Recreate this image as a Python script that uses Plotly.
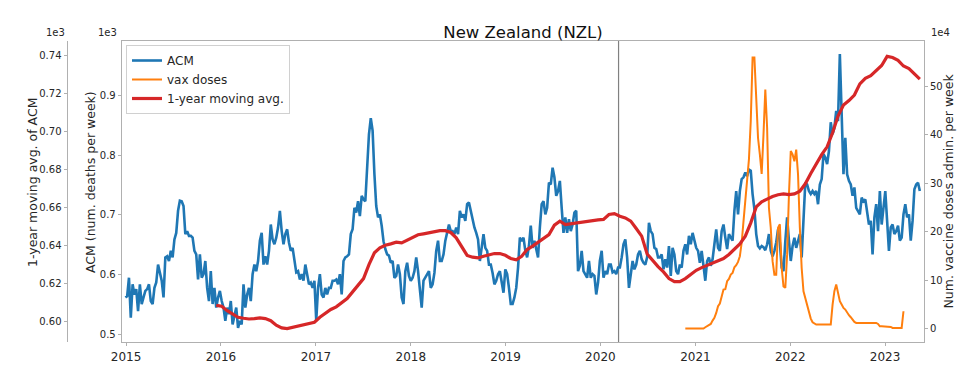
import pandas as pd
import plotly.graph_objects as go

# ---------------- data ----------------
title_text = "New Zealand (NZL)"

# weekly all-cause mortality (deaths per week), first week starting 2014-12-29
acm_start = "2014-12-29"
acm_values = [
    562, 564, 595, 528, 584, 567, 576, 539, 584, 551,
    562, 573, 576, 584, 556, 551, 578, 587, 617, 601,
    590, 562, 629, 631, 623, 640, 629, 659, 670, 707,
    724, 723, 715, 668, 673, 665, 665, 662, 640, 634,
    592, 634, 595, 601, 623, 578, 556, 606, 551, 578,
    545, 562, 573, 556, 545, 523, 545, 534, 556, 517,
    534, 545, 511, 523, 517, 584, 545, 567, 578, 556,
    601, 617,
    606, 623, 657, 670, 617, 631, 617, 640, 684, 659,
    651, 662, 679, 707, 673, 651, 668, 676, 654, 640,
    645, 623, 604, 606, 592, 601, 590, 617, 603, 584,
    587, 578, 590, 523, 578, 601, 567, 562, 578, 567,
    578, 578, 590, 590, 592, 584, 601, 567, 623, 629,
    631, 634, 668, 676, 712, 704, 723, 698, 732, 726,
    723, 790, 835, 862, 841, 768, 715, 696, 701, 682,
    656, 643, 634,
    632, 620, 623, 595, 598, 617, 601, 562, 551, 606,
    620, 598, 590, 595, 606, 629, 606, 578, 545, 590,
    595, 601, 606, 578, 584, 603, 640, 657, 623, 623,
    634, 657, 673, 684, 673, 673, 668, 679, 668, 707,
    696, 701, 690, 718, 721, 707, 690, 679, 670, 659,
    623, 651, 668, 645, 640, 617, 617, 603, 584, 590,
    601, 606, 590, 570, 609, 601, 578, 551, 551, 562,
    578, 612, 662, 656,
    662, 640, 629, 648, 682, 645, 657, 643, 629, 679,
    718, 723, 701, 712, 754, 751, 779, 763, 732, 740,
    757, 712, 670, 696, 670, 693, 673, 684, 704, 707,
    606, 615, 640, 606, 601, 595, 623, 595, 601, 598,
    567, 587, 623, 640, 595, 606, 601, 617, 617, 604,
    606, 601, 612, 612, 629, 651, 659, 629, 578, 606,
    623, 609, 617, 634, 640, 626, 620, 617, 629, 687,
    673, 668, 645,
    643, 629, 629, 634, 609, 626, 612, 648, 598, 645,
    634, 606, 601, 617, 612, 640, 651, 634, 665, 651,
    670, 659, 645, 640, 620, 640, 615, 590, 623, 629,
    615, 626, 651, 676, 645, 640, 673, 684, 662, 643,
    668, 662, 657, 707, 740, 701, 740, 760, 763, 771,
    765, 776, 774, 735, 710, 668, 648, 644, 648, 646,
    641, 651, 668, 640, 631, 640, 654, 676, 654, 612,
    606, 656, 696,
    657, 623, 648, 662, 645, 657, 668, 629, 701, 754,
    751, 740, 735, 740, 735, 740, 718, 751, 760, 802,
    796, 785, 807, 855, 835, 846, 874, 857, 969, 885,
    768, 829, 768, 757, 751, 732, 746, 712, 707, 701,
    729, 723, 726, 704, 684, 690, 634, 696, 718, 673,
    740, 684, 718, 740, 690, 640, 679, 684, 668, 673,
    682, 657, 662, 701, 718, 696, 701, 657, 690, 743,
    751, 754, 740,
]

# vaccine doses administered per week, first week starting 2020-11-23
vax_start = "2020-11-23"
vax_values = [
    0, 0, 0, 0, 0, 0, 0, 0, 0, 0, 0,
    2700, 4800, 6800, 9600, 16500, 22000, 32300, 46000, 51600, 68700,
    80400, 81100, 97600, 102500, 111400, 114800, 126500, 130700, 137500, 149200,
    177000, 221000, 266000, 311000, 349000, 428000, 559000, 559000, 490000, 393000,
    359000, 319000, 400000, 493000, 414000, 249000, 208000, 139000, 111000, 111000,
    208000, 215000, 125000, 87000, 84000, 153000,
    276000, 366000, 359000, 345000, 369000, 318000, 208000, 125000, 77000, 63000,
    43000, 29000, 20600, 13000, 9600, 8200, 8200, 8200, 8200, 8200,
    8200, 8200, 8200, 8200, 49500, 77000, 90800, 73600, 56400, 49500,
    42600, 39200, 32300, 27500, 23400, 18500, 13700, 11600, 11600, 11600,
    11600, 11600, 11600, 11600, 11600, 11600, 11600, 11600, 11600, 9600,
    4800, 4800, 4800, 4800, 4800, 4800, 3400, 1400, 1400, 1400,
    1400, 1400, 1400, 35700,
]

# 1-year moving average of ACM, every 3 weeks starting 2015-12-14
ma_start = "2015-12-14"
ma_values = [
    608.4, 607.9, 605.6, 604.0, 602.1, 601.6, 601.2, 601.4,
    601.8, 601.4, 600.3, 597.9, 596.5, 596.1, 596.8, 597.4, 597.9, 598.8,
    599.5, 602.1, 604.4, 606.2, 607.6, 609.7, 612.0, 615.5, 618.8, 622.5,
    629.9, 636.1, 638.7, 640.1,
    640.8, 641.7, 641.3, 642.6, 644.0, 645.6, 646.1, 646.6, 647.0, 647.8,
    647.8, 646.8, 644.0, 639.6, 634.7, 633.8, 633.4, 634.3, 635.2, 635.7,
    635.7, 634.8, 633.1, 632.4, 634.3,
    637.8, 639.6, 641.5, 643.4, 645.7, 650.7, 652.8, 651.0, 651.4, 652.2,
    652.4, 652.8, 653.3, 653.5, 653.7, 656.3, 656.8, 655.4, 654.5, 652.8,
    648.9, 644.9, 635.5, 632.0,
    628.8, 626.0, 622.5, 620.9, 620.9, 622.5, 624.6, 626.9, 628.3, 629.5,
    630.3, 631.5, 633.1, 635.2, 638.2, 640.8, 644.9, 651.9, 660.3, 663.0,
    664.4, 665.8, 666.7, 667.2,
    666.8, 667.2, 668.6, 672.5, 677.9, 683.2, 687.9, 692.0, 699.4, 708.2,
    714.0, 716.4, 719.3, 725.2, 728.1, 729.5, 732.3, 734.9, 739.7, 739.1,
    737.6, 734.6, 733.2, 730.5, 727.7,
]

pandemic_date = "2020-03-11"

year_ticks = ["2015", "2016", "2017", "2018", "2019", "2020", "2021", "2022", "2023"]
acm_tickvals = [500, 600, 700, 800, 900]
acm_ticktext = ["0.5", "0.6", "0.7", "0.8", "0.9"]
ma_tickvals = [600, 620, 640, 660, 680, 700, 720, 740]
ma_ticktext = ["0.60", "0.62", "0.64", "0.66", "0.68", "0.70", "0.72", "0.74"]
vax_tickvals = [0, 100000, 200000, 300000, 400000, 500000]
vax_ticktext = ["0", "10", "20", "30", "40", "50"]

# ---------------- build ----------------
acm_dates = pd.date_range(acm_start, periods=len(acm_values), freq="7D")
vax_dates = pd.date_range(vax_start, periods=len(vax_values), freq="7D")
ma_dates = pd.date_range(ma_start, periods=len(ma_values), freq="21D")

# the page body has an 8px default margin: the figure is drawn from (8, 8)
OFF = 8
W, H = 950, 371
FONT = "DejaVu Sans"
TXT = "#262626"
SPINE = "#b0b0b0"


def xp(px):
    return (px - OFF) / W


def yp(py):
    return 1 - (py - OFF) / H


x0_px, x1_px = 121.7, 924.0
top_px, bot_px = 41.0, 342.3
xdom = [xp(x0_px), xp(x1_px)]
ydom = [yp(bot_px), yp(top_px)]

fig = go.Figure()
fig.add_trace(go.Scatter(x=acm_dates, y=acm_values, name="ACM", mode="lines",
                         line=dict(color="#1f77b4", width=2.6), yaxis="y"))
fig.add_trace(go.Scatter(x=vax_dates, y=vax_values, name="vax doses", mode="lines",
                         line=dict(color="#ff7f0e", width=2), yaxis="y2"))
fig.add_trace(go.Scatter(x=ma_dates, y=ma_values, name="1-year moving avg.", mode="lines",
                         line=dict(color="#d62728", width=3.2), yaxis="y3"))

common_y = dict(showgrid=False, zeroline=False, showline=True, linecolor=SPINE, linewidth=1,
                ticks="outside", ticklen=3, tickcolor=SPINE,
                tickfont=dict(family=FONT, size=10, color=TXT))

fig.update_layout(
    width=W, height=H,
    margin=dict(l=0, r=0, t=0, b=0, autoexpand=False),
    paper_bgcolor="white", plot_bgcolor="white",
    font=dict(family=FONT, color=TXT),
    title=dict(text=title_text, x=xp(523), y=yp(32), xanchor="center", yanchor="middle",
               font=dict(family=FONT, size=16.5, color="#111")),
    xaxis=dict(domain=xdom, type="date", range=["2014-12-15", "2023-05-31"],
               tickvals=[f"{y}-01-01" for y in year_ticks], ticktext=year_ticks,
               showgrid=False, zeroline=False, showline=True, mirror=True,
               linecolor=SPINE, linewidth=1, ticks="outside", ticklen=3, tickcolor=SPINE,
               tickfont=dict(family=FONT, size=12, color=TXT)),
    yaxis=dict(domain=ydom, range=[487, 991], tickvals=acm_tickvals, ticktext=acm_ticktext,
               mirror=True, **common_y),
    yaxis2=dict(overlaying="y", side="right", range=[-28300, 593000],
                tickvals=vax_tickvals, ticktext=vax_ticktext, **common_y),
    yaxis3=dict(overlaying="y", anchor="free", position=xp(66.5), side="left",
                range=[588.9, 747.8], tickvals=ma_tickvals, ticktext=ma_ticktext, **common_y),
    legend=dict(x=xp(126), y=yp(45), xanchor="left", yanchor="top", itemwidth=30,
                bgcolor="rgba(255,255,255,0.85)", bordercolor="#d0d0d0", borderwidth=1,
                font=dict(family=FONT, size=12, color=TXT), tracegroupgap=0),
    shapes=[dict(type="line", xref="x", yref="paper", x0=pandemic_date, x1=pandemic_date,
                 y0=ydom[0], y1=ydom[1], line=dict(color="#808080", width=1.2), layer="below")],
    annotations=[
        dict(text="1-year moving avg. of ACM", x=xp(32), y=yp(183), xref="paper", yref="paper",
             textangle=-90, showarrow=False, xanchor="center", yanchor="middle",
             font=dict(family=FONT, size=12.5, color=TXT)),
        dict(text="ACM (num. deaths per week)", x=xp(91), y=yp(182), xref="paper", yref="paper",
             textangle=-90, showarrow=False, xanchor="center", yanchor="middle",
             font=dict(family=FONT, size=12.5, color=TXT)),
        dict(text="Num. vaccine doses admin. per week", x=xp(948), y=yp(191.5),
             xref="paper", yref="paper", textangle=-90, showarrow=False,
             xanchor="center", yanchor="middle", font=dict(family=FONT, size=12.5, color=TXT)),
        dict(text="1e3", x=xp(66.7), y=yp(33), xref="paper", yref="paper", showarrow=False,
             xanchor="right", yanchor="middle", font=dict(family=FONT, size=10, color=TXT)),
        dict(text="1e3", x=xp(118.7), y=yp(33), xref="paper", yref="paper", showarrow=False,
             xanchor="right", yanchor="middle", font=dict(family=FONT, size=10, color=TXT)),
        dict(text="1e4", x=xp(929), y=yp(33), xref="paper", yref="paper", showarrow=False,
             xanchor="left", yanchor="middle", font=dict(family=FONT, size=10, color=TXT)),
    ],
)

fig.write_html("out.html")
